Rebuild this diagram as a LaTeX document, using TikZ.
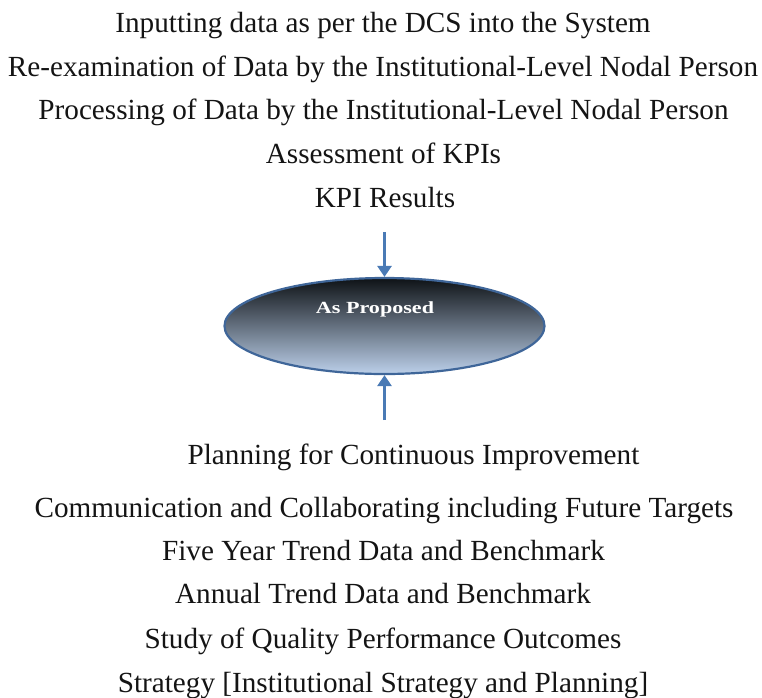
\documentclass[tikz,border=0pt]{standalone}
\usepackage{fontspec}
\setmainfont{Liberation Serif}
\usetikzlibrary{shapes.geometric,arrows.meta}
\definecolor{arrowblue}{HTML}{4A7AB5}
\definecolor{rimblue}{HTML}{3F6699}
\definecolor{shadetop}{HTML}{0E1216}
\definecolor{shademid}{HTML}{6E7C8E}
\definecolor{shadebot}{HTML}{BCD0EA}
\begin{document}
\begin{tikzpicture}[x=1pt,y=-1pt,
  stage/.style={anchor=base,inner sep=0pt,font=\fontsize{29.2}{34}\selectfont,text=black!92},
  hub/.style={ellipse,draw=rimblue,line width=2.2pt,minimum width=320pt,minimum height=96pt,inner sep=0pt,
    top color=shadetop,middle color=shademid,bottom color=shadebot},
  hublabel/.style={anchor=center,inner sep=0pt,text=white,font=\bfseries\fontsize{17}{20}\selectfont},
  flow/.style={draw=arrowblue,line width=3pt,-{Triangle[length=11pt,width=14pt]}}]
\useasboundingbox (0,0) rectangle (762,697);

% steps leading into the hub
\node[stage] (s1) at (383,32)  {Inputting data as per the DCS into the System};
\node[stage] (s2) at (383,76)  {Re-examination of Data by the Institutional-Level Nodal Person};
\node[stage] (s3) at (383.5,119) {Processing of Data by the Institutional-Level Nodal Person};
\node[stage] (s4) at (383.5,163) {Assessment of KPIs};
\node[stage] (s5) at (385,207) {KPI Results};

% central hub
\node[hub] (hub) at (384.5,326) {};
\node[hublabel] (hubtext) at (375,309) {\scalebox{1.3}[1]{As Proposed}};

% steps following the hub
\node[stage] (t1) at (413.5,464) {Planning for Continuous Improvement};
\node[stage] (t2) at (384,517) {Communication and Collaborating including Future Targets};
\node[stage] (t3) at (383.5,560) {Five Year Trend Data and Benchmark};
\node[stage] (t4) at (383,603) {Annual Trend Data and Benchmark};
\node[stage] (t5) at (383,648) {Study of Quality Performance Outcomes};
\node[stage] (t6) at (383,692) {Strategy [Institutional Strategy and Planning]};

% arrows into the hub
\coordinate (inTop) at (384.5,232);
\coordinate (inBot) at (384.5,420);
\draw[flow] (inTop) -- (hub.north);
\draw[flow] (inBot) -- (hub.south);
\end{tikzpicture}
\end{document}
